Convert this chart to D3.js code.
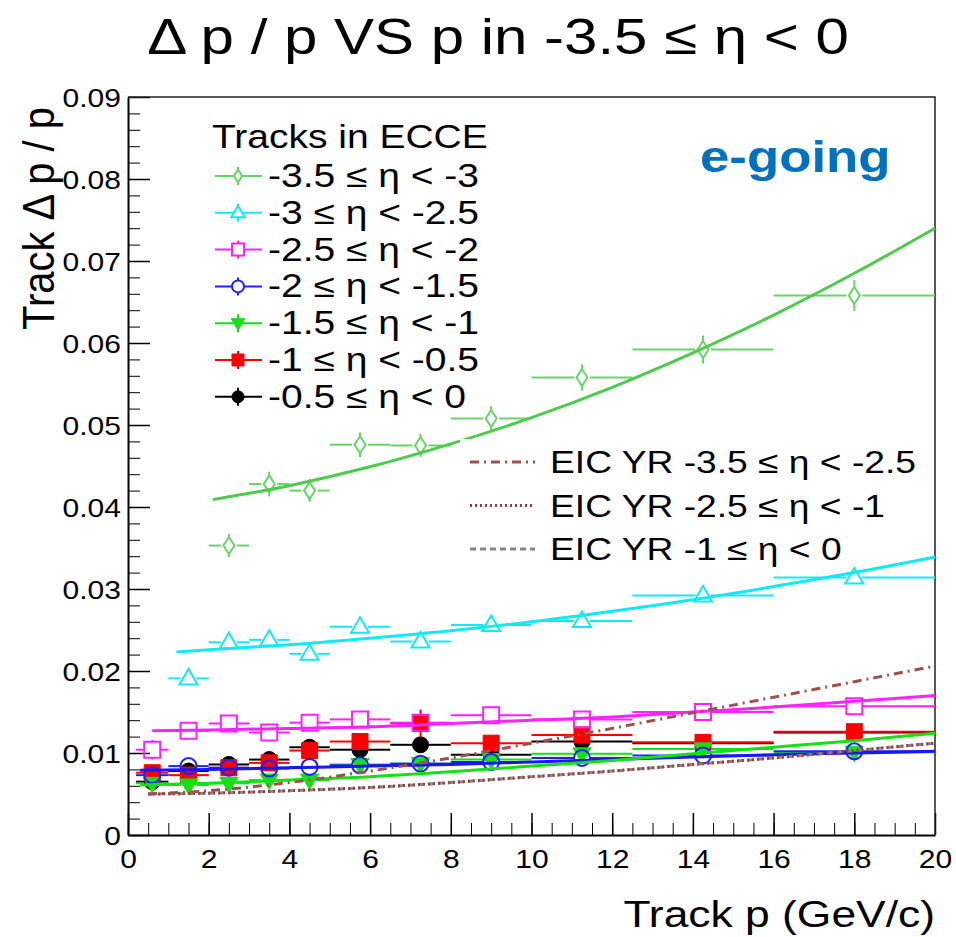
<!DOCTYPE html>
<html>
<head>
<meta charset="utf-8">
<script src="https://cdn.jsdelivr.net/npm/d3@7"></script>
<style>
  body { margin: 0; background: #fff; }
  svg { display: block; }
  text { font-family: "Liberation Sans", Arial, Helvetica, sans-serif; }
</style>
</head>
<body>
<svg id="chart"></svg>
<script>
//**** DATA ****//
// momentum bins (GeV/c) and the point positions inside them
const binEdges = [0.2, 1, 2, 3, 4, 5, 6.5, 8, 10, 12.5, 16, 20];
const pCenters = [0.6, 1.5, 2.5, 3.5, 4.5, 5.75, 7.25, 9, 11.25, 14.25, 18];

// dp/p per eta slice (null = no point in that bin)
const etaM35toM3  = [null, null, 0.0353, 0.0428, 0.0420, 0.0476, 0.0475, 0.0508, 0.0558, 0.0592, 0.0658];
const etaM3toM25  = [null, 0.0191, 0.0235, 0.0238, 0.0221, 0.0254, 0.0236, 0.0256, 0.0261, 0.0292, 0.0314];
const etaM25toM2  = [0.0104, 0.0127, 0.0136, 0.0125, 0.0137, 0.0141, 0.0137, 0.0146, 0.0141, 0.0150, 0.0157];
const etaM2toM15  = [0.0073, 0.0084, 0.0082, 0.0081, 0.0083, 0.0085, 0.0087, 0.0089, 0.0094, 0.0097, 0.0102];
const etaM15toM1  = [0.0063, 0.0061, 0.0063, 0.0067, 0.0067, 0.0086, 0.0087, 0.0092, 0.0099, 0.0105, 0.0101];
const etaM1toM05  = [0.0076, 0.0073, 0.0082, 0.0088, 0.0103, 0.0114, 0.0136, 0.0112, 0.0122, 0.0113, 0.0126];
const etaM05to0   = [0.0065, 0.0078, 0.0086, 0.0092, 0.0107, 0.0104, 0.0110, 0.0098, 0.0114, 0.0112, 0.0125];

// vertical errors
const errM35toM3 = [0, 0, 0.0014, 0.0015, 0.0014, 0.0015, 0.0014, 0.0015, 0.0016, 0.0017, 0.0019];
const errM3toM25 = [0, 0.0005, 0.0005, 0.0005, 0.0005, 0.0005, 0.0005, 0.0005, 0.0005, 0.0006, 0.0006];
const errM25toM2 = [0.0012, 0.0005, 0.0005, 0.0005, 0.0005, 0.0005, 0.0005, 0.0005, 0.0005, 0.0005, 0.0005];
const errSmall   = [0.0004, 0.0004, 0.0004, 0.0004, 0.0004, 0.0004, 0.0004, 0.0004, 0.0004, 0.0004, 0.0004];
const errM1toM05 = [0.0005, 0.0005, 0.0005, 0.0005, 0.0005, 0.0006, 0.0017, 0.0006, 0.0008, 0.0006, 0.0006];

// fit curves
const fitPM35toM3 = [2.1, 4, 6, 8, 10, 12, 14, 16, 18, 20];
const fitM35toM3  = [0.0409, 0.0426, 0.0449, 0.0477, 0.0509, 0.0546, 0.0588, 0.0634, 0.0685, 0.0740];
const fitPM3toM25 = [1.2, 2, 4, 6, 8, 10, 12, 14, 16, 18, 20];
const fitM3toM25  = [0.0223, 0.0226, 0.0232, 0.0240, 0.0249, 0.0260, 0.0273, 0.0287, 0.0303, 0.0320, 0.0339];
const fitPM25toM2 = [0.6, 2, 4, 6, 8, 10, 12, 14, 16, 18, 20];
const fitM25toM2  = [0.0127, 0.0128, 0.0130, 0.0132, 0.0136, 0.0140, 0.0144, 0.0150, 0.0156, 0.0163, 0.0170];
const fitPLow     = [0.3, 2, 4, 6, 8, 10, 12, 14, 16, 18, 20];
const fitM2toM15  = [0.0079, 0.0080, 0.0082, 0.0084, 0.0086, 0.0089, 0.0092, 0.0095, 0.0098, 0.0100, 0.0102];
const fitM15toM1  = [0.0061, 0.0063, 0.0067, 0.0071, 0.0077, 0.0084, 0.0091, 0.0099, 0.0107, 0.0115, 0.0124];

// EIC Yellow Report requirements
const yrP       = [0.5, 2, 4, 6, 8, 10, 12, 14, 16, 18, 20];
const yrBackFar = [0.0050, 0.0054, 0.0064, 0.0078, 0.0094, 0.0112, 0.0130, 0.0149, 0.0168, 0.0187, 0.0206];
const yrBackMid = [0.0050, 0.0051, 0.0054, 0.0058, 0.0064, 0.0071, 0.0078, 0.0086, 0.0094, 0.0103, 0.0112];
const yrCentral = [0.0050, 0.0051, 0.0054, 0.0058, 0.0064, 0.0071, 0.0078, 0.0086, 0.0094, 0.0103, 0.0112];

// axis ticks
const xTicks = [0, 2, 4, 6, 8, 10, 12, 14, 16, 18, 20];
const yTicks = [0, 0.01, 0.02, 0.03, 0.04, 0.05, 0.06, 0.07, 0.08, 0.09];

//**** SETUP ****//
const width = 956, height = 937;
const SX = 1.2; // glyphs in the picture are a bit wider than Arial

const svg = d3.select("#chart").attr("width", width).attr("height", height);

const x = d3.scaleLinear().domain([0, 20]).range([128, 935]);
const y = d3.scaleLinear().domain([0, 0.09]).range([835, 97]);

const series = [
  {label: "-3.5 ≤ η < -3",  vals: etaM35toM3, errs: errM35toM3, color: "#68d468", shape: "diamond", fill: false, fitP: fitPM35toM3, fit: fitM35toM3, fitColor: "#4ccb4c"},
  {label: "-3 ≤ η < -2.5",  vals: etaM3toM25, errs: errM3toM25, color: "#14e8f2", shape: "triUp",   fill: false, fitP: fitPM3toM25, fit: fitM3toM25, fitColor: "#14e8f2"},
  {label: "-2.5 ≤ η < -2",  vals: etaM25toM2, errs: errM25toM2, color: "#ff22ff", shape: "square",  fill: false, fitP: fitPM25toM2, fit: fitM25toM2, fitColor: "#ff22ff"},
  {label: "-2 ≤ η < -1.5",  vals: etaM2toM15, errs: errSmall,   color: "#2020ff", shape: "circle",  fill: false, fitP: fitPLow,     fit: fitM2toM15, fitColor: "#1818f0"},
  {label: "-1.5 ≤ η < -1",  vals: etaM15toM1, errs: errSmall,   color: "#14e014", shape: "triDown", fill: true,  fitP: fitPLow,     fit: fitM15toM1, fitColor: "#14e014"},
  {label: "-1 ≤ η < -0.5",  vals: etaM1toM05, errs: errM1toM05, color: "#ff0000", shape: "square",  fill: true},
  {label: "-0.5 ≤ η < 0",   vals: etaM05to0,  errs: errSmall,   color: "#000000", shape: "circle",  fill: true}
];

const yrLines = [
  {label: "EIC YR -3.5 ≤ η < -2.5", vals: yrBackFar, color: "#a0504c", dash: "9,5,2,5"},
  {label: "EIC YR -2.5 ≤ η < -1",   vals: yrBackMid, color: "#a03a3a", dash: "2,3"},
  {label: "EIC YR -1 ≤ η < 0",      vals: yrCentral, color: "#8c8484", dash: "6,4"}
];

function markerPath(shape, k) {
  k = k || 1;
  if (shape === "diamond") return `M0,${-8.5*k}L${5.5*k},0L0,${8.5*k}L${-5.5*k},0Z`;
  if (shape === "triUp")   return `M0,${-9.5*k}L${9*k},${6*k}L${-9*k},${6*k}Z`;
  if (shape === "triDown") return `M${-9*k},${-6*k}L${9*k},${-6*k}L0,${9.5*k}Z`;
  if (shape === "square")  return `M${-8*k},${-8*k}H${8*k}V${8*k}H${-8*k}Z`;
  return d3.symbol(d3.symbolCircle, Math.PI * 64 * k * k)();
}

function label(g, px, py, s, size, anchor) {
  return g.append("text")
    .attr("transform", `translate(${px},${py}) scale(${SX},1)`)
    .attr("font-size", size)
    .attr("text-anchor", anchor || "start")
    .text(s);
}

//**** AXES ****//
const minorX = d3.range(0, 41).map(i => i * 0.5);
const minorY = d3.range(0, 46).map(i => i * 0.002);

svg.append("g").attr("transform", "translate(0,835)")
  .call(d3.axisBottom(x).tickValues(minorX).tickSizeInner(-12).tickSizeOuter(0).tickFormat(""))
  .call(g => g.select(".domain").remove());
svg.append("g").attr("transform", "translate(128,0)")
  .call(d3.axisLeft(y).tickValues(minorY).tickSizeInner(-12).tickSizeOuter(0).tickFormat(""))
  .call(g => g.select(".domain").remove());

svg.append("g").attr("transform", "translate(0,835)")
  .call(d3.axisBottom(x).tickValues(xTicks).tickSizeInner(-22).tickSizeOuter(0).tickFormat(d3.format("d")))
  .call(g => g.attr("font-size", null).attr("font-family", null))
  .call(g => g.select(".domain").attr("stroke-width", 2))
  .call(g => g.selectAll(".tick line").attr("stroke-width", 1.5))
  .call(g => g.selectAll(".tick text").attr("y", null).attr("dy", null)
    .attr("font-size", 25).attr("transform", `translate(0,33) scale(${SX},1)`));

svg.append("g").attr("transform", "translate(128,0)")
  .call(d3.axisLeft(y).tickValues(yTicks).tickSizeInner(-22).tickSizeOuter(0)
    .tickFormat(d => d === 0 ? "0" : d3.format(".2f")(d)))
  .call(g => g.attr("font-size", null).attr("font-family", null))
  .call(g => g.select(".domain").attr("stroke-width", 2))
  .call(g => g.selectAll(".tick line").attr("stroke-width", 1.5))
  .call(g => g.selectAll(".tick text").attr("x", null).attr("dy", null)
    .attr("font-size", 25).attr("transform", `translate(-7,9) scale(${SX},1)`));

// top and right frame
svg.append("path")
  .attr("d", `M128,97H935V835`)
  .attr("fill", "none").attr("stroke", "#222").attr("stroke-width", 1.5);

//**** DATA POINTS ****//
const plot = svg.append("g");
const R = 8;

series.slice().reverse().forEach(s => {
  const g = plot.append("g");
  s.vals.forEach((v, i) => {
    if (v === null) return;
    const cx = x(pCenters[i]), cy = y(v);
    const lo = x(binEdges[i]), hi = x(binEdges[i + 1]);
    const yTop = y(v + s.errs[i]), yBot = y(v - s.errs[i]);
    const segs = [[lo, cy, cx - R, cy], [cx + R, cy, hi, cy]];
    if (cy - yTop > R) { segs.push([cx, yTop, cx, cy - R]); segs.push([cx, cy + R, cx, yBot]); }
    segs.forEach(d => g.append("line")
      .attr("x1", d[0]).attr("y1", d[1]).attr("x2", d[2]).attr("y2", d[3])
      .attr("stroke", s.color).attr("stroke-width", 2));
    g.append("path")
      .attr("d", markerPath(s.shape))
      .attr("transform", `translate(${cx},${cy})`)
      .attr("fill", s.fill ? s.color : "none")
      .attr("stroke", s.color)
      .attr("stroke-width", s.fill ? 1 : 2);
  });
});

// fits
const curve = d3.line().curve(d3.curveMonotoneX).x(d => x(d[0])).y(d => y(d[1]));
series.forEach(s => {
  if (!s.fit) return;
  plot.append("path")
    .attr("d", curve(s.fitP.map((p, i) => [p, s.fit[i]])))
    .attr("fill", "none").attr("stroke", s.fitColor).attr("stroke-width", 3);
});

// YR requirement curves
yrLines.slice().reverse().forEach(l => {
  plot.append("path")
    .attr("d", curve(yrP.map((p, i) => [p, l.vals[i]])))
    .attr("fill", "none").attr("stroke", l.color)
    .attr("stroke-width", 3).attr("stroke-dasharray", l.dash);
});

//**** LEGENDS ****//
// YR legend box (white, hides what is below)
svg.append("rect").attr("x", 460).attr("y", 439).attr("width", 460).attr("height", 114).attr("fill", "#fff");

yrLines.forEach((l, i) => {
  const cy = 462 + i * 43.5;
  svg.append("line").attr("x1", 470).attr("x2", 535).attr("y1", cy).attr("y2", cy)
    .attr("stroke", l.color).attr("stroke-width", 3).attr("stroke-dasharray", l.dash);
  label(svg, 550, cy + 11, l.label, 31);
});

const leg = svg.append("g");
label(leg, 212, 148, "Tracks in ECCE", 32.5);
series.forEach((s, i) => {
  const cy = 176 + i * 36.8;
  leg.append("line").attr("x1", 215).attr("x2", 262).attr("y1", cy).attr("y2", cy)
    .attr("stroke", s.color).attr("stroke-width", 2);
  leg.append("line").attr("x1", 238).attr("x2", 238).attr("y1", cy - 9).attr("y2", cy + 9)
    .attr("stroke", s.color).attr("stroke-width", 2);
  leg.append("path")
    .attr("d", markerPath(s.shape, 0.75))
    .attr("transform", `translate(238,${cy})`)
    .attr("fill", s.fill ? s.color : "#fff")
    .attr("stroke", s.color).attr("stroke-width", s.fill ? 1 : 2);
  label(leg, 268, cy + 11, s.label, 32.5);
});

//**** TEXTS ****//
label(svg, 498, 54, "Δ p / p VS p in -3.5 ≤ η < 0", 50, "middle");
label(svg, 935, 927, "Track p (GeV/c)", 37, "end");
svg.append("text")
  .attr("transform", `translate(54,330) scale(1.1,1) rotate(-90)`)
  .attr("font-size", 40)
  .text("Track Δ p / p");
label(svg, 700, 172, "e-going", 44)
  .attr("font-weight", "bold").attr("fill", "#0070c0");
</script>
</body>
</html>
